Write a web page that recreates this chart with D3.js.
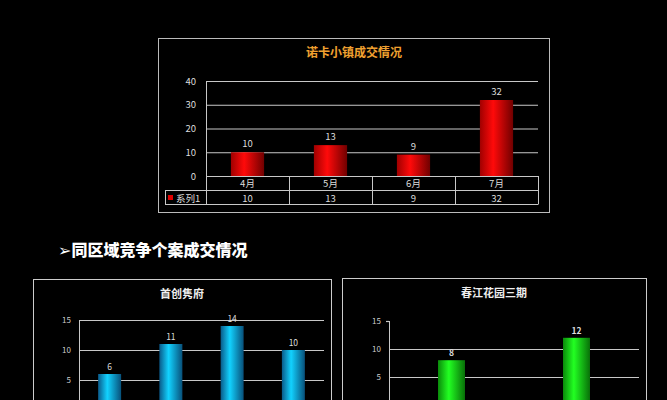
<!DOCTYPE html>
<html><head><meta charset="utf-8">
<script src="https://cdn.jsdelivr.net/npm/d3@7"></script>
<style>body{margin:0;background:#000;}svg{display:block;}</style>
</head><body>
<svg id="c" width="667" height="400"></svg>
<script>
const topTitle = "诺卡小镇成交情况";
const topCategories = ["4月","5月","6月","7月"];
const topValues = [10,13,9,32];
const topTicks = [0,10,20,30,40];
const seriesName = "系列1";
const heading = "➢同区域竞争个案成交情况";
const leftTitle = "首创隽府";
const leftCategories = ["4月","5月","6月","7月"];
const leftValues = [6,11,14,10];
const leftTicks = [5,10,15];
const rightTitle = "春江花园三期";
const rightCategories = ["6月","7月"];
const rightValues = [8,12];
const rightTicks = [5,10,15];

const svg = d3.select("#c");
svg.append("rect").attr("width",667).attr("height",400).attr("fill","#000");
const defs = svg.append("defs");
function grad(id, edge, mid, edge2){
  const g = defs.append("linearGradient").attr("id",id).attr("x1","0").attr("x2","1").attr("y1","0").attr("y2","0");
  g.append("stop").attr("offset","0%").attr("stop-color",edge);
  g.append("stop").attr("offset","40%").attr("stop-color",mid);
  g.append("stop").attr("offset","100%").attr("stop-color",edge2);
}
grad("gRed","#a00000","#ff0a0a","#700000");
grad("gCyan","#0a5a8a","#12d2ff","#08507a");
grad("gGreen","#0a8a0a","#22ff22","#087008");
const font = "'Noto Sans CJK SC','DejaVu Sans',sans-serif";
const grid = "#c8c8c8";

// ---------- Top chart ----------
(function(){
  const g = svg.append("g");
  g.append("rect").attr("x",158.5).attr("y",38.5).attr("width",391).attr("height",174).attr("fill","none").attr("stroke","#bbb");
  g.append("text").attr("x",354).attr("y",57).attr("text-anchor","middle").attr("fill","#f0a030")
    .attr("font-family",font).attr("font-weight","bold").attr("font-size",12).text(topTitle);
  const x = d3.scaleBand().domain(topCategories).range([206,538]).padding(0);
  const y = d3.scaleLinear().domain([0,40]).range([176,81]);
  const ax = g.append("g").attr("transform","translate(206,0)")
    .call(d3.axisLeft(y).tickValues(topTicks).tickSize(-(538-206)).tickPadding(10));
  ax.select(".domain").remove();
  ax.selectAll(".tick line").attr("stroke",grid);
  ax.selectAll(".tick text").attr("fill","#ddd").attr("font-size",9.5).attr("font-family",font);
  g.append("line").attr("x1",206.5).attr("x2",206.5).attr("y1",81).attr("y2",205).attr("stroke",grid);
  const bw = x.bandwidth()*0.4;
  g.selectAll(".bar").data(topValues).join("rect")
    .attr("x",(d,i)=>x(topCategories[i])+x.bandwidth()/2-bw/2).attr("width",bw)
    .attr("y",d=>y(d)).attr("height",d=>y(0)-y(d)).attr("fill","url(#gRed)");
  g.selectAll(".lbl").data(topValues).join("text")
    .attr("x",(d,i)=>x(topCategories[i])+x.bandwidth()/2).attr("y",d=>y(d)-5)
    .attr("text-anchor","middle").attr("fill","#ddd").attr("font-size",9.5).attr("font-family",font).text(d=>d);
  // table
  const r1 = 190.5, r2 = 204.5;
  g.append("line").attr("x1",165).attr("x2",538).attr("y1",r1).attr("y2",r1).attr("stroke",grid);
  g.append("line").attr("x1",165).attr("x2",538).attr("y1",r2).attr("y2",r2).attr("stroke",grid);
  g.append("line").attr("x1",165.5).attr("x2",165.5).attr("y1",r1).attr("y2",r2).attr("stroke",grid);
  topCategories.forEach((c,i)=>{
    const xr = x(c)+x.bandwidth();
    g.append("line").attr("x1",Math.round(xr)+0.5).attr("x2",Math.round(xr)+0.5).attr("y1",176).attr("y2",r2).attr("stroke",grid);
    g.append("text").attr("x",x(c)+x.bandwidth()/2).attr("y",187).attr("text-anchor","middle")
      .attr("fill","#ddd").attr("font-size",9.5).attr("font-family",font).text(c);
    g.append("text").attr("x",x(c)+x.bandwidth()/2).attr("y",201.5).attr("text-anchor","middle")
      .attr("fill","#ddd").attr("font-size",9.5).attr("font-family",font).text(topValues[i]);
  });
  g.append("rect").attr("x",168).attr("y",195).attr("width",5).attr("height",5).attr("fill","#e00000");
  g.append("text").attr("x",176).attr("y",201.5).attr("fill","#ddd").attr("font-size",9.5).attr("font-family",font).text(seriesName);
})();

// heading
svg.append("text").attr("x",58).attr("y",256).attr("fill","#fff").attr("font-family",font)
  .attr("font-weight","900").attr("font-size",16).text(heading);

// ---------- Bottom charts ----------
function bottomChart(o){
  const g = svg.append("g");
  g.append("rect").attr("x",o.bx+0.5).attr("y",o.by+0.5).attr("width",o.bw).attr("height",200).attr("fill","none").attr("stroke","#ccc");
  g.append("text").attr("x",o.bx+o.bw/2).attr("y",o.by+19).attr("text-anchor","middle").attr("fill","#eee")
    .attr("font-family",font).attr("font-weight","bold").attr("font-size",11).text(o.title);
  const x = d3.scaleBand().domain(o.cats).range([o.x0,o.x1]).padding(0);
  const y = d3.scaleLinear().domain([0,15]).range([o.y0,o.y15]);
  const ax = g.append("g").attr("transform",`translate(${o.x0},0)`)
    .call(d3.axisLeft(y).tickValues(o.ticks).tickSize(-(o.x1-o.x0)).tickPadding(o.pad));
  ax.select(".domain").remove();
  ax.selectAll(".tick line").attr("stroke",grid).attr("stroke-width",1.2);
  if(!o.topGrid) ax.selectAll(".tick").filter(d=>d===15).select("line").attr("x2",-3);
  ax.selectAll(".tick text").attr("fill","#ccc").attr("font-size",8).attr("font-family",font);
  g.append("line").attr("x1",o.x0+0.5).attr("x2",o.x0+0.5).attr("y1",o.y15).attr("y2",o.y0).attr("stroke",grid);
  const bw = o.barW;
  g.selectAll(".bar").data(o.vals).join("rect")
    .attr("x",(d,i)=>x(o.cats[i])+x.bandwidth()/2-bw/2).attr("width",bw)
    .attr("y",d=>y(d)).attr("height",d=>y(0)-y(d)).attr("fill",o.fill);
  g.selectAll(".lbl").data(o.vals).join("text")
    .attr("x",(d,i)=>x(o.cats[i])+x.bandwidth()/2).attr("y",d=>y(d)-4)
    .attr("text-anchor","middle").attr("fill","#ddd").attr("font-weight",o.boldLbl?"bold":"normal")
    .attr("font-size",8.5).attr("font-family",font).text(d=>d);
}
bottomChart({bx:33,by:279,bw:298,title:leftTitle,cats:leftCategories,vals:leftValues,ticks:leftTicks,
  x0:79,x1:324,y0:410,y15:320,barW:23,fill:"url(#gCyan)",pad:8,topGrid:true,boldLbl:false});
bottomChart({bx:342,by:278,bw:304,title:rightTitle,cats:rightCategories,vals:rightValues,ticks:rightTicks,
  x0:389,x1:639,y0:405,y15:321,barW:27,fill:"url(#gGreen)",pad:8,topGrid:false,boldLbl:true});
</script>
</body></html>
